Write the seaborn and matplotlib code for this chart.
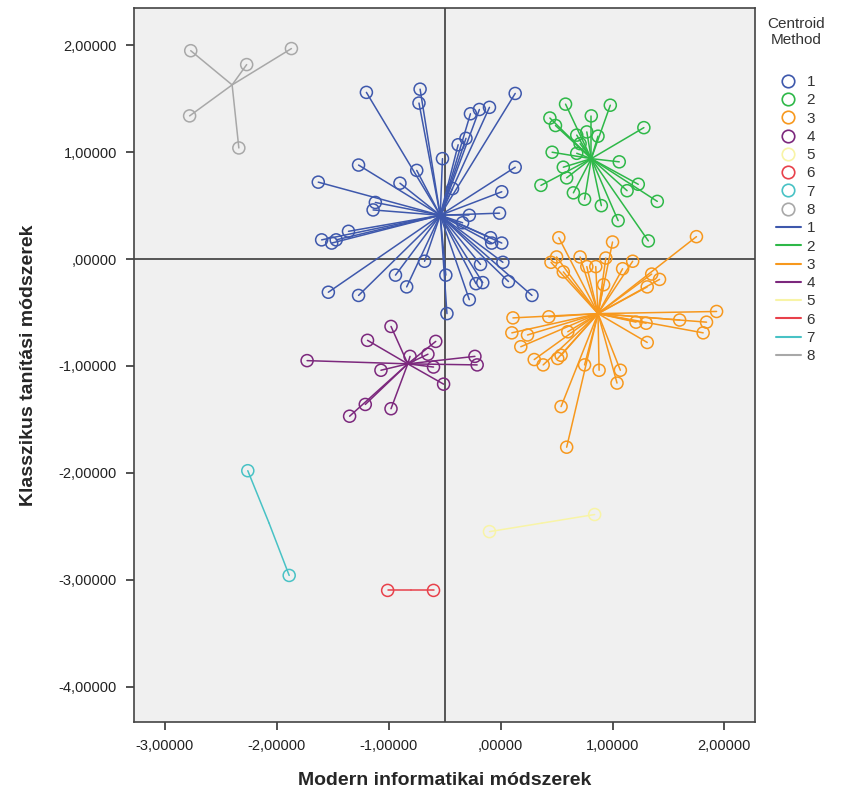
import numpy as np
import pandas as pd
import matplotlib
matplotlib.use("Agg")
import matplotlib.pyplot as plt
import seaborn as sns
from matplotlib.lines import Line2D
from matplotlib.ticker import FuncFormatter

# cluster members (Modern informatikai, Klasszikus tanitasi)
c1_x = [-1.20, -0.72, -0.73, 0.13, -0.10, -0.19, -0.27, -0.31, -0.38, -0.52, 0.13, 0.01, -0.43,
        -0.28, -0.01, -0.34, -0.09, 0.01, -0.08, -0.68, -0.18, 0.02, -0.49, -0.22, -0.16, 0.07,
        0.28, -0.28, -0.48, -1.27, -1.63, -0.75, -0.90, -1.12, -1.14, -1.36, -1.60, -1.51, -1.47,
        -0.94, -0.84, -1.54, -1.27]
c1_y = [1.56, 1.59, 1.46, 1.55, 1.42, 1.40, 1.36, 1.13, 1.07, 0.94, 0.86, 0.63, 0.66,
        0.41, 0.43, 0.34, 0.20, 0.15, 0.15, -0.02, -0.05, -0.03, -0.15, -0.23, -0.22, -0.21,
        -0.34, -0.38, -0.51, 0.88, 0.72, 0.83, 0.71, 0.53, 0.46, 0.26, 0.18, 0.15, 0.18,
        -0.15, -0.26, -0.31, -0.34]
c2_x = [0.58, 0.98, 0.81, 0.44, 0.49, 1.28, 0.68, 0.77, 0.87, 0.71, 0.46, 0.68, 1.06, 0.56,
        0.59, 0.36, 1.23, 1.13, 0.65, 0.75, 0.90, 1.40, 1.05, 1.32]
c2_y = [1.45, 1.44, 1.34, 1.32, 1.25, 1.23, 1.16, 1.19, 1.15, 1.08, 1.00, 0.99, 0.91, 0.86,
        0.76, 0.69, 0.70, 0.64, 0.62, 0.56, 0.50, 0.54, 0.36, 0.17]
c3_x = [0.52, 1.00, 1.75, 0.71, 0.50, 0.45, 0.94, 1.18, 1.09, 0.77, 0.85, 0.56, 1.35, 1.42,
        1.31, 0.92, 1.93, 0.11, 0.43, 1.21, 1.30, 1.60, 1.84, 1.81, 0.10, 0.24, 0.60, 0.18,
        1.31, 0.30, 0.38, 0.51, 0.54, 0.75, 0.88, 1.07, 1.04, 0.54, 0.59]
c3_y = [0.20, 0.16, 0.21, 0.02, 0.02, -0.03, 0.01, -0.02, -0.09, -0.07, -0.07, -0.12, -0.14,
        -0.19, -0.26, -0.24, -0.49, -0.55, -0.54, -0.59, -0.60, -0.57, -0.59, -0.69, -0.69,
        -0.71, -0.68, -0.82, -0.78, -0.94, -0.99, -0.93, -0.90, -0.99, -1.04, -1.04, -1.16,
        -1.38, -1.76]
c4_x = [-1.73, -1.19, -0.98, -0.58, -0.81, -0.65, -0.23, -0.21, -0.60, -1.07, -0.51, -1.21,
        -1.35, -0.98]
c4_y = [-0.95, -0.76, -0.63, -0.77, -0.91, -0.89, -0.91, -0.99, -1.01, -1.04, -1.17, -1.36,
        -1.47, -1.40]
c5_x = [-0.10, 0.84]
c5_y = [-2.55, -2.39]
c6_x = [-1.01, -0.60]
c6_y = [-3.10, -3.10]
c7_x = [-2.26, -1.89]
c7_y = [-1.98, -2.96]
c8_x = [-2.77, -1.87, -2.27, -2.78, -2.34]
c8_y = [1.95, 1.97, 1.82, 1.34, 1.04]

# centroids as drawn
cent_x = [-0.54, 0.81, 0.87, -0.83, 0.37, -0.80, -2.07, -2.40]
cent_y = [0.41, 0.94, -0.51, -0.98, -2.47, -3.10, -2.47, 1.63]

groups = ["1", "2", "3", "4", "5", "6", "7", "8"]
colors = ["#3E58AC", "#2EB848", "#F7981D", "#7C287D", "#F8F4A6", "#E8414B", "#48C2C5", "#A8A8A8"]

xs = [c1_x, c2_x, c3_x, c4_x, c5_x, c6_x, c7_x, c8_x]
ys = [c1_y, c2_y, c3_y, c4_y, c5_y, c6_y, c7_y, c8_y]

pts = pd.DataFrame({
    "x": [v for a in xs for v in a],
    "y": [v for a in ys for v in a],
    "grp": [g for g, a in zip(groups, xs) for _ in a],
})

rows = []
seg = 0
for g, cx, cy, ax_, ay_ in zip(groups, cent_x, cent_y, xs, ys):
    for px, py in zip(ax_, ay_):
        rows.append((cx, cy, g, seg))
        rows.append((px, py, g, seg))
        seg += 1
lines = pd.DataFrame(rows, columns=["x", "y", "grp", "seg"])

pal = dict(zip(groups, colors))

sns.set_style("white")
plt.rcParams["font.family"] = ["Liberation Sans", "DejaVu Sans"]

fig = plt.figure(figsize=(8.46, 7.95), dpi=100)
ax = fig.add_axes([0.158, 0.092, 0.734, 0.898])
ax.set_facecolor("#F0F0F0")

sns.lineplot(data=lines, x="x", y="y", hue="grp", units="seg", estimator=None, sort=False,
             palette=pal, linewidth=1.1, legend=False, ax=ax, zorder=2)
sns.scatterplot(data=pts, x="x", y="y", hue="grp", palette=pal, marker="o", s=75,
                linewidth=1.1, legend=False, ax=ax, zorder=3)
# hollow circles
for coll in ax.collections:
    ec = coll.get_facecolors()
    coll.set_edgecolors(ec)
    coll.set_facecolors("none")

ax.axvline(-0.50, color="#555555", linewidth=1.4, zorder=1)
ax.axhline(0.0, color="#555555", linewidth=1.4, zorder=1)

ax.set_xlim(-3.28, 2.27)
ax.set_ylim(-4.33, 2.35)
ax.set_xticks([-3, -2, -1, 0, 1, 2])
ax.set_yticks([2, 1, 0, -1, -2, -3, -4])


def comma_fmt(v, pos):
    s = f"{v:.5f}".replace(".", ",")
    if s.startswith("0,"):
        s = s[1:]
    if s.startswith("-0,"):
        s = s[2:]
    return s


ax.xaxis.set_major_formatter(FuncFormatter(comma_fmt))
ax.yaxis.set_major_formatter(FuncFormatter(comma_fmt))
ax.tick_params(axis="both", direction="out", length=6, width=1.2, color="#333333",
               labelsize=10.5, labelcolor="#222222", bottom=True, left=True, pad=6)
for sp in ax.spines.values():
    sp.set_color("#444444")
    sp.set_linewidth(1.2)

ax.set_xlabel("Modern informatikai módszerek", fontsize=14, fontweight="bold", labelpad=14)
ax.set_ylabel("Klasszikus tanítási módszerek", fontsize=14, fontweight="bold", labelpad=16)

handles = [Line2D([], [], marker="o", linestyle="none", markerfacecolor="none",
                  markeredgecolor=c, markersize=9, markeredgewidth=1.2) for c in colors]
handles += [Line2D([], [], color=c, linewidth=1.5) for c in colors]
labels = groups + groups
leg = ax.legend(handles, labels, title="Centroid\nMethod", loc="upper left",
                bbox_to_anchor=(1.005, 1.0), frameon=False, fontsize=11, title_fontsize=11,
                labelspacing=0.28, handlelength=1.6, handletextpad=0.4, borderaxespad=0.2)
for t in leg.get_texts():
    t.set_color("#333333")
leg.get_title().set_color("#333333")
leg.get_title().set_multialignment("center")
leg._legend_box.align = "center"
leg._legend_box.sep = 20

fig.savefig("out.png", dpi=100)
